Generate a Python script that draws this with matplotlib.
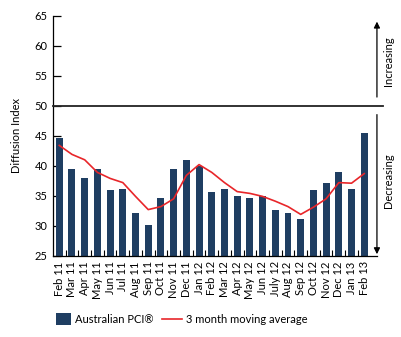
import matplotlib
matplotlib.use('Agg')
from matplotlib import pyplot as plt
import numpy as np

plt.rcParams['font.family'] = ['Lato', 'DejaVu Sans']

months = ['Feb 11', 'Mar 11', 'Apr 11', 'May 11', 'Jun 11', 'Jul 11', 'Aug 11',
          'Sep 11', 'Oct 11', 'Nov 11', 'Dec 11', 'Jan 12', 'Feb 12', 'Mar 12',
          'Apr 12', 'May 12', 'Jun 12', 'July 12', 'Aug 12', 'Sep 12', 'Oct 12',
          'Nov 12', 'Dec 12', 'Jan 13', 'Feb 13']
pci = [44.6, 39.4, 37.9, 39.5, 35.9, 36.2, 32.2, 30.1, 34.7, 39.5, 41.0, 39.9,
       35.7, 36.2, 34.9, 34.7, 34.9, 32.7, 32.2, 31.1, 35.9, 37.1, 38.9, 36.2, 45.5]
moving_avg = [43.4, 41.9, 41.0, 38.9, 37.9, 37.2, 34.9, 32.7, 33.2, 34.5, 38.4, 40.2,
              38.9, 37.2, 35.7, 35.4, 34.9, 34.1, 33.2, 31.9, 33.1, 34.5, 37.2, 37.1, 38.7]

navy = '#1f3e62'
red = '#e8262a'

fig = plt.figure(figsize=(4.01, 3.37), dpi=100)
ax = fig.add_axes([0.132, 0.241, 0.808, 0.712])

x = np.arange(len(months))
bars = ax.bar(x, pci, width=0.55, color=navy, zorder=2)
line, = ax.plot(x, moving_avg, color=red, lw=1.2, zorder=3)

ax.set_ylim(25, 65)
ax.set_xlim(-0.5, 25.0)
ax.set_yticks(range(25, 70, 5))
ax.set_xticks(x)
ax.set_xticklabels(months, rotation=90, fontsize=8)
ax.set_xticks(x[:-1] + 0.5, minor=True)
ax.tick_params(axis='x', which='major', length=0, pad=4)
ax.tick_params(axis='x', which='minor', direction='in', length=4, width=0.8)
ax.tick_params(axis='y', direction='in', length=6, width=0.9, labelsize=8, pad=4)
for s in ['top', 'right']:
    ax.spines[s].set_visible(False)
for s in ['left', 'bottom']:
    ax.spines[s].set_linewidth(0.9)

ax.set_ylabel('Diffusion Index', fontsize=8, labelpad=9)

# threshold line at 50
ax.axhline(50, xmin=0, xmax=1.018, color='#222222', lw=1.3, clip_on=False, zorder=4)

# direction arrows on the right
trans = ax.get_yaxis_transform()
ax.annotate('', xy=(1.0, 64.5), xytext=(1.0, 51.0), xycoords=trans, textcoords=trans,
            arrowprops=dict(arrowstyle='-|>', color='black', lw=0.9, mutation_scale=9))
ax.annotate('', xy=(1.0, 24.8), xytext=(1.0, 49.0), xycoords=trans, textcoords=trans,
            arrowprops=dict(arrowstyle='-|>', color='black', lw=0.9, mutation_scale=9),
            annotation_clip=False)
ax.text(1.037, 57.5, 'Increasing', transform=trans, rotation=90, ha='center',
        va='center', fontsize=8)
ax.text(1.037, 37.5, 'Decreasing', transform=trans, rotation=90, ha='center',
        va='center', fontsize=8)

# two legends so the swatch and the line can have their own lengths
leg1 = ax.legend([bars], ['Australian PCI\u00ae'], loc='upper left',
                 bbox_to_anchor=(-0.022, -0.195), frameon=False, fontsize=8,
                 handlelength=1.35, handleheight=1.4, handletextpad=0.4)
ax.add_artist(leg1)
ax.legend([line], ['3 month moving average'], loc='upper left',
          bbox_to_anchor=(0.305, -0.2), frameon=False, fontsize=8,
          handlelength=1.8, handletextpad=0.35)

fig.savefig('out.png', dpi=100)
